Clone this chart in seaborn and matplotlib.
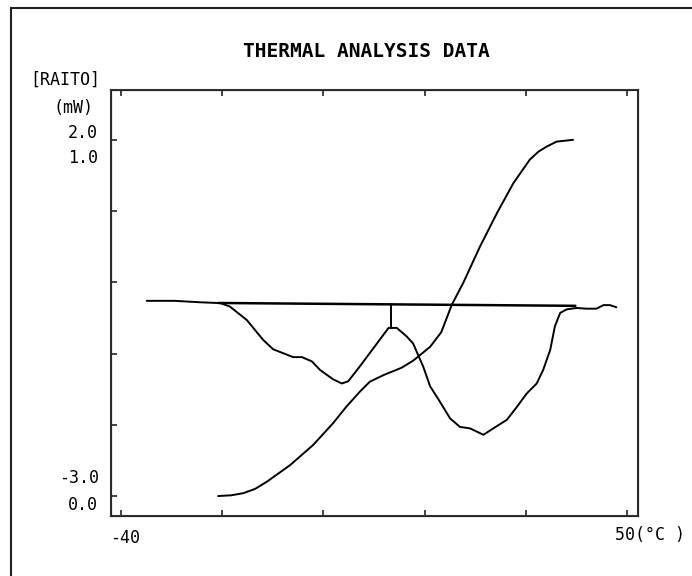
import numpy as np
import pandas as pd
import seaborn as sns
import matplotlib.pyplot as plt
from matplotlib.patches import Rectangle

# DSC heat flow curve (temperature degC, mW)
dsc_temp = [-33.9, -29.1, -24.8, -21.9, -21.4, -19.7, -16.8, -14.0, -12.3, -8.9,
            -7.4, -5.7, -4.3, -2.1, -0.6, 0.5, 2.5, 5.4, 7.4, 8.8,
            10.5, 11.6, 13.3, 14.5, 16.2, 17.9, 19.6, 21.3, 23.6, 25.3,
            27.6, 29.3, 31.0, 32.7, 33.8, 35.0, 35.8, 36.7, 37.8, 39.5,
            41.2, 42.9, 44.1, 45.2, 46.3]
dsc_mw = [-0.26, -0.26, -0.28, -0.29, -0.29, -0.34, -0.53, -0.81, -0.94, -1.05,
          -1.05, -1.11, -1.23, -1.36, -1.42, -1.39, -1.18, -0.86, -0.64, -0.64,
          -0.76, -0.86, -1.18, -1.46, -1.68, -1.91, -2.03, -2.05, -2.14, -2.05,
          -1.93, -1.75, -1.56, -1.42, -1.23, -0.95, -0.62, -0.43, -0.38, -0.36,
          -0.37, -0.37, -0.32, -0.32, -0.35]

# baseline drawn under the peaks, and the marker line at the middle peak
base_temp = [-21.7, 39.3]
base_mw = [-0.29, -0.33]
mark_temp = [7.9, 7.9]
mark_mw = [-0.31, -0.64]

# conversion ratio curve (0..1)
ratio_temp = [-21.7, -19.5, -17.4, -15.4, -13.4, -9.4, -5.5, -2.1, 0.2, 2.5, 4.2, 6.6,
              9.6, 11.6, 14.5, 16.4, 18.2, 20.2, 23.0, 25.9, 28.7, 31.5,
              33.0, 34.4, 36.1, 38.9]
ratio_val = [0.0, 0.002, 0.008, 0.020, 0.040, 0.087, 0.143, 0.204, 0.251, 0.293, 0.321, 0.340,
             0.360, 0.380, 0.419, 0.460, 0.537, 0.600, 0.700, 0.794, 0.878, 0.944,
             0.967, 0.981, 0.995, 1.0]

dsc = pd.DataFrame({'temp': dsc_temp, 'mw': dsc_mw})
ratio = pd.DataFrame({'temp': ratio_temp, 'ratio': ratio_val})

sns.set_style('ticks')
plt.rcParams['font.family'] = ['DejaVu Sans Mono', 'DejaVu Sans']
plt.rcParams['text.color'] = 'black'
plt.rcParams['lines.solid_joinstyle'] = 'round'
plt.rcParams['lines.solid_capstyle'] = 'round'

fig = plt.figure(figsize=(6.92, 5.76), dpi=100)
ax = fig.add_axes([0.1604, 0.1042, 0.7616, 0.7396])

lw = 1.4
sns.lineplot(data=dsc, x='temp', y='mw', ax=ax, color='black', lw=lw,
             sort=False, estimator=None)
sns.lineplot(x=base_temp, y=base_mw, ax=ax, color='black', lw=lw + 0.4,
             sort=False, estimator=None)
sns.lineplot(x=mark_temp, y=mark_mw, ax=ax, color='black', lw=lw,
             sort=False, estimator=None)

ax.set_xlim(-40, 50)
ax.set_ylim(-3.28, 2.70)
ax.set_xticks(np.linspace(-38.3, 48.1, 6))
ax.set_yticks([-3, -2, -1, 0, 1, 2])
ax.tick_params(direction='in', length=4, width=1.2, color='#222222',
               top=True, right=True, labelbottom=False, labelleft=False)
ax.set_xlabel('')
ax.set_ylabel('')
for s in ax.spines.values():
    s.set_linewidth(1.5)
    s.set_color('#333333')

# ratio axis: 0 sits on -3 mW, 1 sits on 2 mW
ax2 = ax.twinx()
sns.lineplot(data=ratio, x='temp', y='ratio', ax=ax2, color='black', lw=lw,
             sort=False, estimator=None)
ax2.set_ylim((-3.28 + 3) / 5, (2.70 + 3) / 5)
ax2.set_yticks([])
ax2.set_ylabel('')
ax2.set_xlabel('')

fs = 12
fig.text(0.529, 0.910, 'THERMAL ANALYSIS DATA', ha='center', va='center',
         fontsize=14, fontweight='bold')
fig.text(0.1445, 0.861, '[RAITO]', ha='right', va='center', fontsize=fs)
fig.text(0.1358, 0.8125, '(mW)', ha='right', va='center', fontsize=fs)
fig.text(0.1416, 0.769, '2.0', ha='right', va='center', fontsize=fs)
fig.text(0.1416, 0.726, '1.0', ha='right', va='center', fontsize=fs)
fig.text(0.1430, 0.170, '-3.0', ha='right', va='center', fontsize=fs)
fig.text(0.1416, 0.123, '0.0', ha='right', va='center', fontsize=fs)
fig.text(0.159, 0.066, '-40', ha='left', va='center', fontsize=fs)
fig.text(0.889, 0.071, '50(°C )', ha='left', va='center', fontsize=fs)

# page frame: only left and top edges fall inside the picture
fig.add_artist(Rectangle((0.016, -0.02), 1.0, 1.006, transform=fig.transFigure,
                         fill=False, lw=1.5, ec='#222222'))

fig.savefig('out.png', dpi=100)
